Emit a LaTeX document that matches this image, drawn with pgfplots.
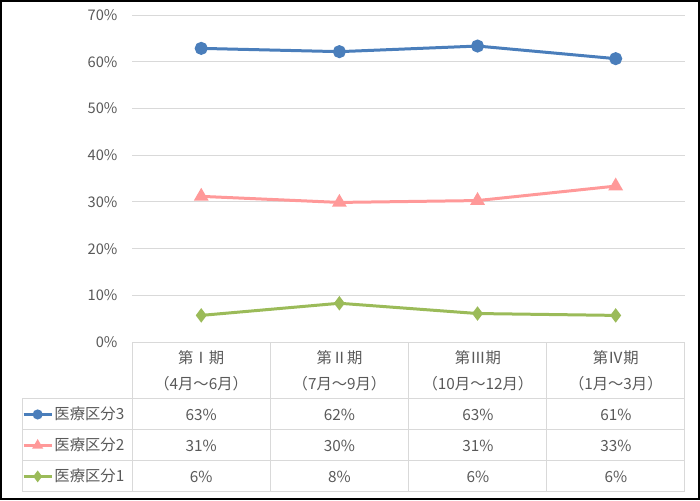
\documentclass[border=0pt]{standalone}
\usepackage{pgfplots}
\pgfplotsset{compat=1.18}
\usepackage{fontspec}
\setmainfont{Noto Sans CJK JP}
\definecolor{kubun3}{HTML}{4A7EBB}
\definecolor{kubun2}{HTML}{FF9999}
\definecolor{kubun1}{HTML}{9BBB59}
\definecolor{gridc}{HTML}{D9D9D9}
\definecolor{txt}{HTML}{595959}
\newcommand\lbl{\fontsize{11.5}{13}\selectfont}
\newcommand\tlbl{\fontsize{11}{13}\selectfont}

\begin{document}
\begin{tikzpicture}[x=0.75pt,y=0.75pt]
% picture in pixel units, origin top left
\begin{axis}[
  at={(132*0.75pt,-342*0.75pt)}, anchor=south west,
  scale only axis, width=414.75pt, height=245.25pt,
  xmin=0, xmax=4, ymin=0, ymax=70,
  xtick=\empty, ytick={0,10,...,70},
  ymajorgrids, grid style={gridc, line width=0.75pt},
  axis line style={draw=none}, major tick length=0pt,
  /pgf/number format/assume math mode=true,
  yticklabel={\pgfmathprintnumber{\tick}\%},
  yticklabel style={font=\tlbl, text=txt, xshift=-7.5pt},
  clip=false,
  legend style={at={(axis description cs:-0.1990,-0.1743)}, anchor=north west,
    draw=none, fill=none, inner sep=0pt, outer sep=0pt,
    row sep=0pt, column sep=1pt,
    nodes={inner sep=0pt, minimum height=23.25pt, font=\lbl, text=txt}},
  legend cell align=left,
  legend image code/.code={
    \draw[mark repeat=2, mark phase=2, #1, mark size=2.6pt] plot coordinates {(0pt,0pt) (10.5pt,0pt) (21pt,0pt)};},
]
\addplot[kubun3, line width=2.25pt, mark=*, mark size=3.75pt, mark options={solid}]
  coordinates {(0.5,62.9) (1.5,62.2) (2.5,63.4) (3.5,60.7)};
\addlegendentry{医療区分3}
\addplot[kubun2, line width=2.25pt, mark=triangle*, mark size=4.2pt, mark options={solid}]
  coordinates {(0.5,31.2) (1.5,29.9) (2.5,30.3) (3.5,33.4)};
\addlegendentry{医療区分2}
\addplot[kubun1, line width=2.25pt, mark=diamond*, mark size=3.6pt, mark options={solid}]
  coordinates {(0.5,5.7) (1.5,8.3) (2.5,6.1) (3.5,5.7)};
\addlegendentry{医療区分1}
\end{axis}

% data table
\begin{scope}[gridc, line width=0.75pt]
  \draw (132,-342) -- (685,-342);
  \foreach \yy in {399,430,461,492} \draw (22,-\yy) -- (685,-\yy);
  \foreach \xx in {132,270,409,547,685} \draw (\xx,-342) -- (\xx,-492);
  \draw (22,-399) -- (22,-492);
\end{scope}
\begin{scope}[every node/.style={font=\lbl, text=txt, inner sep=0pt}]
  \node at (201,-358) {第Ⅰ期};
  \node at (339.5,-358) {第Ⅱ期};
  \node at (478,-358) {第Ⅲ期};
  \node at (616,-358) {第Ⅳ期};
  \node at (201,-384) {（4月～6月）};
  \node at (339.5,-384) {（7月～9月）};
  \node at (478,-384) {（10月～12月）};
  \node at (616,-384) {（1月～3月）};
  \node at (201,-415) {63\%};
  \node at (339.5,-415) {62\%};
  \node at (478,-415) {63\%};
  \node at (616,-415) {61\%};
  \node at (201,-446) {31\%};
  \node at (339.5,-446) {30\%};
  \node at (478,-446) {31\%};
  \node at (616,-446) {33\%};
  \node at (201,-477) {6\%};
  \node at (339.5,-477) {8\%};
  \node at (478,-477) {6\%};
  \node at (616,-477) {6\%};
\end{scope}
\draw[black, line width=1.5pt] (0.75,-0.75) rectangle (699.25,-499.25);
\end{tikzpicture}
\end{document}
